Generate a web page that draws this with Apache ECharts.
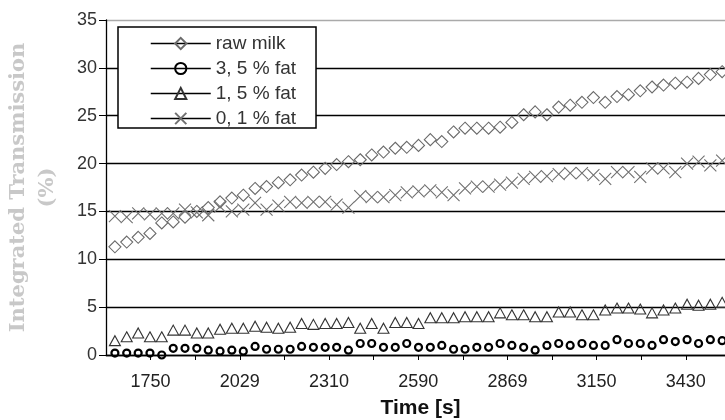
<!DOCTYPE html>
<html>
<head>
<meta charset="utf-8">
<script src="https://cdn.jsdelivr.net/npm/echarts@6/dist/echarts.min.js"></script>
<style>html,body{margin:0;padding:0;background:#fff}#c{width:725px;height:420px}</style>
</head>
<body>
<div id="c"></div>
<script>
// Measurement times (s)
const times = [1638,1675,1711,1748,1785,1821,1858,1895,1931,1968,2005,2041,2078,2114,2151,2188,2224,2261,2298,2334,2371,2408,2444,2481,2518,2554,2591,2628,2664,2701,2737,2774,2811,2847,2884,2921,2957,2994,3031,3067,3104,3140,3177,3214,3250,3287,3324,3360,3397,3434,3470,3507,3544];
const rawMilk = [11.3,11.8,12.3,12.7,13.8,13.9,14.4,15.0,15.4,16.0,16.4,16.7,17.4,17.6,18.0,18.3,18.8,19.1,19.5,19.9,20.2,20.4,20.9,21.2,21.6,21.7,21.9,22.5,22.3,23.3,23.7,23.7,23.7,23.8,24.3,25.1,25.4,25.1,25.9,26.1,26.4,26.9,26.4,27.0,27.2,27.6,28.0,28.2,28.4,28.5,28.9,29.3,29.6];
const fat35 = [0.2,0.2,0.2,0.2,0.0,0.7,0.7,0.7,0.5,0.4,0.5,0.4,0.9,0.6,0.6,0.6,0.9,0.8,0.8,0.8,0.5,1.2,1.2,0.8,0.8,1.2,0.8,0.8,1.0,0.6,0.6,0.8,0.8,1.2,1.0,0.8,0.5,1.0,1.2,1.0,1.2,1.0,1.0,1.6,1.2,1.2,1.0,1.6,1.4,1.6,1.2,1.6,1.5];
const fat15 = [1.5,1.9,2.3,1.9,1.9,2.6,2.6,2.3,2.3,2.7,2.8,2.8,3.0,2.9,2.8,2.9,3.3,3.2,3.3,3.3,3.4,2.8,3.3,2.8,3.4,3.4,3.3,3.9,3.9,3.9,4.0,4.0,4.0,4.4,4.2,4.2,4.0,4.0,4.5,4.5,4.2,4.2,4.7,4.9,4.9,4.8,4.4,4.7,4.9,5.3,5.2,5.3,5.5];
const fat01 = [14.5,14.4,14.8,14.7,14.8,14.8,15.2,14.9,14.6,15.5,15.0,15.2,15.9,15.2,15.6,16.0,15.9,16.0,16.0,15.7,15.4,16.6,16.5,16.5,16.7,17.0,17.1,17.2,17.0,16.7,17.4,17.6,17.6,17.8,18.0,18.4,18.6,18.7,18.9,19.0,19.0,18.8,18.4,19.1,19.1,18.6,19.5,19.5,19.1,20.0,20.2,19.8,20.3];
const seriesNames = ['raw milk','3, 5 % fat','1, 5 % fat','0, 1 % fat'];
const tickValues = [1750,1890,2030,2170,2310,2450,2590,2730,2870,3010,3150,3290,3430];
const labelValues = [1750,2030,2310,2590,2870,3150,3430];
const tickLabels = ['1750','2029','2310','2590','2869','3150','3430'];

const pair = arr => times.map((t, i) => [t, arr[i]]);
const chart = echarts.init(document.getElementById('c'));
const base = {
  type: 'line', showAllSymbol: true, animation: false, silent: true,
  lineStyle: { width: 0, opacity: 0 }, emphasis: { disabled: true }
};
chart.setOption({
  animation: false,
  grid: { left: 106, right: 0, top: 20, bottom: 65, containLabel: false, outerBoundsMode: 'none' },
  legend: {
    orient: 'vertical', left: 118, top: 27,
    backgroundColor: '#fff', borderColor: '#000', borderWidth: 1.5, borderRadius: 0,
    padding: [7, 20, 0, 32], itemWidth: 60, itemHeight: 14, itemGap: 6,
    textStyle: { fontSize: 19, color: '#333', fontFamily: 'Liberation Sans' },
    lineStyle: { width: 1.5, color: '#000', opacity: 1 },
    data: seriesNames
  },
  xAxis: {
    type: 'value', min: 1610, max: 3553,
    name: 'Time [s]', nameLocation: 'middle', nameGap: 43,
    nameTextStyle: { fontSize: 21, fontWeight: 'bold', color: '#111', fontFamily: 'Liberation Sans', padding: [0, 0, 0, 10] },
    axisLine: { show: true, lineStyle: { color: '#000', width: 1.3 } },
    axisTick: { show: true, customValues: tickValues, length: 5, lineStyle: { color: '#000' } },
    axisLabel: {
      customValues: labelValues, margin: 18, fontSize: 18, color: '#222', fontFamily: 'Liberation Sans',
      formatter: v => tickLabels[labelValues.indexOf(v)]
    },
    splitLine: { show: false }
  },
  yAxis: {
    type: 'value', min: 0, max: 35, interval: 5,
    name: 'Integrated Transmission\n(%)', nameLocation: 'middle', nameGap: 44, nameRotate: 90,
    nameTextStyle: { fontSize: 21, fontWeight: 'bold', color: '#c8c8c8', fontFamily: 'DejaVu Serif', lineHeight: 29, align: 'center' },
    axisLine: { show: true, lineStyle: { color: '#000', width: 1.3 } },
    axisTick: { show: true, length: 7, lineStyle: { color: '#000' } },
    axisLabel: { margin: 9, fontSize: 18, color: '#333', fontFamily: 'Liberation Sans' },
    splitLine: { show: true, lineStyle: { color: ['#000','#000','#000','#000','#000','#000','#000','#aaa'], width: 1.3 } }
  },
  series: [
    Object.assign({}, base, { name: seriesNames[0], data: pair(rawMilk), symbol: 'diamond', symbolSize: 12,
      itemStyle: { color: 'rgba(0,0,0,0)', borderColor: '#6a6a6a', borderWidth: 1.1 } }),
    Object.assign({}, base, { name: seriesNames[1], data: pair(fat35), symbol: 'circle', symbolSize: 7,
      itemStyle: { color: 'rgba(0,0,0,0)', borderColor: '#000', borderWidth: 2.2 } }),
    Object.assign({}, base, { name: seriesNames[2], data: pair(fat15), symbol: 'triangle', symbolSize: [11, 10],
      itemStyle: { color: 'rgba(0,0,0,0)', borderColor: '#333', borderWidth: 1.1 } }),
    Object.assign({}, base, { name: seriesNames[3], data: pair(fat01), symbol: 'path://M0,0L10,10M10,0L0,10', symbolSize: 12,
      itemStyle: { color: 'rgba(0,0,0,0)', borderColor: '#707070', borderWidth: 1.1 } })
  ]
});
</script>
</body>
</html>
